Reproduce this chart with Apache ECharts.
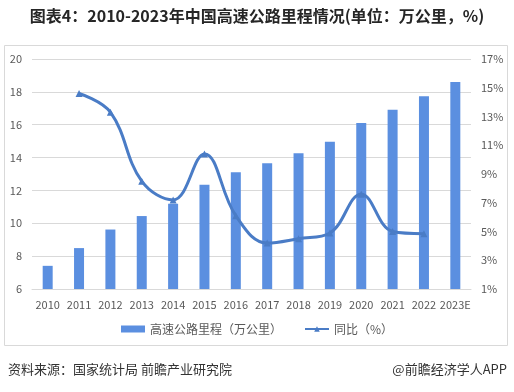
<!DOCTYPE html>
<html>
<head>
<meta charset="utf-8">
<script src="https://cdn.jsdelivr.net/npm/echarts@6/dist/echarts.min.js"></script>
<style>html,body{margin:0;padding:0;background:#fff}#c{width:514px;height:392px}</style>
</head>
<body>
<div id="c"></div>
<script>
const categories = ['2010','2011','2012','2013','2014','2015','2016','2017','2018','2019','2020','2021','2022','2023E'];
const mileage = [7.41, 8.49, 9.62, 10.44, 11.19, 12.35, 13.10, 13.65, 14.26, 14.96, 16.10, 16.91, 17.73, 18.60];
const growth = [null, 14.6, 13.3, 8.5, 7.2, 10.4, 6.1, 4.2, 4.5, 4.9, 7.6, 5.0, 4.85, null];
const leftTicks = {min: 6, max: 20, interval: 2};
const rightTicks = {min: 1, max: 17, interval: 2};

const font = '"Noto Sans CJK SC", "Microsoft YaHei", sans-serif';
const chart = echarts.init(document.getElementById('c'));
chart.setOption({
  animation: false,
  textStyle: {fontFamily: font},
  title: {
    text: '图表4：2010-2023年中国高速公路里程情况(单位：万公里，%)',
    left: 'center', top: 3,
    textStyle: {fontSize: 16, fontWeight: 'bold', color: '#262626', fontFamily: font}
  },
  graphic: [
    {type: 'rect', shape: {x: 4.5, y: 45.5, width: 503, height: 300}, style: {fill: 'none', stroke: '#d9d9d9', lineWidth: 1}, silent: true},
    {type: 'text', left: 8, top: 363, style: {text: '资料来源：国家统计局 前瞻产业研究院', fontSize: 13, fill: '#333', fontFamily: font}},
    {type: 'text', right: 7, top: 363, style: {text: '@前瞻经济学人APP', fontSize: 13, fill: '#333', fontFamily: font}}
  ],
  legend: {
    top: 318, left: 'center', itemGap: 22,
    itemWidth: 24, itemHeight: 7,
    textStyle: {fontSize: 12, color: '#595959'},
    data: [{name: '高速公路里程（万公里）', icon: 'rect'}, {name: '同比（%）'}]
  },
  grid: {left: 32, right: 43, top: 59, bottom: 103},
  xAxis: {
    type: 'category', data: categories,
    axisLine: {lineStyle: {color: '#d9d9d9'}},
    axisTick: {show: false},
    axisLabel: {color: '#595959', fontSize: 11, margin: 10, interval: 0}
  },
  yAxis: [
    {type: 'value', min: leftTicks.min, max: leftTicks.max, interval: leftTicks.interval,
     axisLine: {show: false}, axisTick: {show: false},
     axisLabel: {color: '#595959', fontSize: 11, margin: 10},
     splitLine: {lineStyle: {color: '#d9d9d9'}}},
    {type: 'value', min: rightTicks.min, max: rightTicks.max, interval: rightTicks.interval,
     axisLine: {show: false}, axisTick: {show: false},
     axisLabel: {color: '#595959', fontSize: 11, margin: 10, formatter: '{value}%'},
     splitLine: {show: false}}
  ],
  series: [
    {name: '高速公路里程（万公里）', type: 'bar', data: mileage, barWidth: 10,
     itemStyle: {color: '#5b8fe0'}},
    {name: '同比（%）', type: 'line', yAxisIndex: 1, data: growth, smooth: 0.4,
     symbol: 'triangle', symbolSize: 7, showSymbol: true,
     lineStyle: {color: '#4a7cc6', width: 3},
     itemStyle: {color: '#4a7cc6'}}
  ]
});
</script>
</body>
</html>
